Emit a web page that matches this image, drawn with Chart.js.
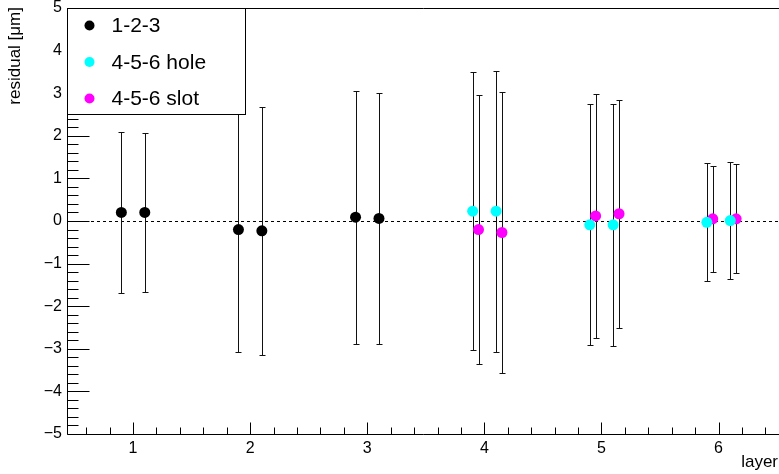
<!DOCTYPE html>
<html>
<head>
<meta charset="utf-8">
<script src="https://cdn.jsdelivr.net/npm/chart.js@4.4.1/dist/chart.umd.min.js"></script>
<style>
  html, body { margin: 0; padding: 0; background: #fff; }
  #wrap { width: 779px; height: 474px; }
</style>
</head>
<body>
<div id="wrap"><canvas id="residualChart"></canvas></div>
<script>
  // layer positions (offset so the three groups sit side by side)
  const x123 = [0.9, 1.1, 1.9, 2.1, 2.9, 3.1];
  const y123 = [0.20, 0.20, -0.20, -0.23, 0.09, 0.06];
  const e123 = [1.90, 1.86, 2.88, 2.91, 2.97, 2.94];

  const xHole = [3.9, 4.1, 4.9, 5.1, 5.9, 6.1];
  const yHole = [0.23, 0.23, -0.09, -0.09, -0.03, 0.01];
  const eHole = [3.26, 3.30, 2.83, 2.84, 1.38, 1.38];

  const xSlot = [3.95, 4.15, 4.95, 5.15, 5.95, 6.15];
  const ySlot = [-0.20, -0.27, 0.12, 0.17, 0.05, 0.05];
  const eSlot = [3.15, 3.29, 2.87, 2.68, 1.25, 1.28];

  const seriesNames = ['1-2-3', '4-5-6 hole', '4-5-6 slot'];
  const seriesColors = ['#000000', '#00ffff', '#ff00ff'];
  const xTickLabels = [1, 2, 3, 4, 5, 6];
  const yTickLabels = [-5, -4, -3, -2, -1, 0, 1, 2, 3, 4, 5];

  const FONT = '"Liberation Sans", Arial, Helvetica, sans-serif';

  function toPoints(xs, ys, es) {
    return xs.map((x, i) => ({ x: x, y: ys[i], err: es[i] }));
  }

  // error bars, dashed zero line and inward ticks (ROOT look)
  const rootStyle = {
    id: 'rootStyle',
    beforeDatasetsDraw(chart) {
      const { ctx, chartArea: a, scales: { x, y } } = chart;
      ctx.save();
      // dashed line at zero
      const y0 = Math.round(y.getPixelForValue(0)) + 0.5;
      ctx.strokeStyle = '#000';
      ctx.lineWidth = 1;
      ctx.setLineDash([3, 3]);
      ctx.beginPath();
      ctx.moveTo(a.left, y0);
      ctx.lineTo(a.right, y0);
      ctx.stroke();
      ctx.setLineDash([]);

      // error bars
      ctx.strokeStyle = '#111';
      chart.data.datasets.forEach(ds => {
        ds.data.forEach(p => {
          const px = Math.round(x.getPixelForValue(p.x)) + 0.5;
          const top = Math.round(y.getPixelForValue(p.y + p.err)) + 0.5;
          const bot = Math.round(y.getPixelForValue(p.y - p.err)) + 0.5;
          ctx.beginPath();
          ctx.moveTo(px, top); ctx.lineTo(px, bot);
          ctx.moveTo(px - 3, top); ctx.lineTo(px + 3, top);
          ctx.moveTo(px - 3, bot); ctx.lineTo(px + 3, bot);
          ctx.stroke();
        });
      });
      ctx.restore();
    },
    afterDraw(chart) {
      const { ctx, chartArea: a, scales: { x, y } } = chart;
      ctx.save();
      ctx.strokeStyle = '#000';
      ctx.lineWidth = 1;

      // frame: left, bottom, top
      const L = a.left + 0.5, B = Math.round(a.bottom) + 0.5, T = Math.round(a.top) + 0.5;
      ctx.beginPath();
      ctx.moveTo(L, T); ctx.lineTo(L, B); ctx.lineTo(779, B);
      ctx.moveTo(L, T); ctx.lineTo(779, T);
      ctx.stroke();

      // y ticks, pointing into the plot
      ctx.beginPath();
      for (let k = -50; k <= 50; k += 2) {
        const v = k / 10;
        const py = Math.round(y.getPixelForValue(v)) + 0.5;
        const len = (k % 10 === 0) ? 22 : 11;
        ctx.moveTo(L, py); ctx.lineTo(L + len, py);
      }
      // x ticks
      for (let k = 6; k <= 65; k += 2) {
        const v = k / 10;
        const px = Math.round(x.getPixelForValue(v)) + 0.5;
        if (px > 779) continue;
        const len = (k % 10 === 0) ? 12 : 7;
        ctx.moveTo(px, B); ctx.lineTo(px, B - len);
      }
      ctx.stroke();

      // axis titles
      ctx.fillStyle = '#000';
      ctx.font = '17px ' + FONT;
      ctx.textAlign = 'right';
      ctx.textBaseline = 'alphabetic';
      ctx.fillText('layer', 778, 467);
      ctx.save();
      ctx.translate(20, 7);
      ctx.rotate(-Math.PI / 2);
      ctx.fillText('residual [\u03bcm]', 0, 0);
      ctx.restore();

      // legend box
      const lx = L, ly = T, lw = 178, lh = 106;
      ctx.fillStyle = '#fff';
      ctx.fillRect(lx, ly, lw, lh);
      ctx.strokeRect(lx, ly, lw, lh);
      ctx.font = '21px ' + FONT;
      ctx.textAlign = 'left';
      ctx.textBaseline = 'middle';
      chart.data.datasets.forEach((ds, i) => {
        const cy = ly + 17 + i * 36.5;
        ctx.fillStyle = ds.backgroundColor;
        ctx.beginPath();
        ctx.arc(lx + 22, cy, 5, 0, Math.PI * 2);
        ctx.fill();
        ctx.fillStyle = '#000';
        ctx.fillText(ds.label, lx + 44, cy + 1);
      });
      ctx.restore();
    }
  };

  new Chart(document.getElementById('residualChart'), {
    type: 'scatter',
    data: {
      datasets: [
        { label: seriesNames[0], data: toPoints(x123, y123, e123), backgroundColor: seriesColors[0], borderWidth: 0, pointRadius: 5.5 },
        { label: seriesNames[1], data: toPoints(xHole, yHole, eHole), backgroundColor: seriesColors[1], borderWidth: 0, pointRadius: 5.5 },
        { label: seriesNames[2], data: toPoints(xSlot, ySlot, eSlot), backgroundColor: seriesColors[2], borderWidth: 0, pointRadius: 5.5 }
      ]
    },
    options: {
      responsive: true,
      maintainAspectRatio: false,
      animation: false,
      layout: { autoPadding: false, padding: { top: 8, right: 0, left: 0, bottom: 0 } },
      plugins: { legend: { display: false }, tooltip: { enabled: false } },
      scales: {
        x: {
          type: 'linear',
          min: 0.436,
          max: 6.516,
          grid: { display: false, drawTicks: false },
          border: { display: false },
          afterBuildTicks: s => { s.ticks = xTickLabels.map(v => ({ value: v })); },
          afterFit: s => { s.height = 40; s.paddingLeft = 0; s.paddingRight = 0; },
          ticks: { color: '#000', padding: 5, font: { family: FONT, size: 16 }, maxRotation: 0, autoSkip: false }
        },
        y: {
          type: 'linear',
          min: -5,
          max: 5,
          grid: { display: false, drawTicks: false },
          border: { display: false },
          afterBuildTicks: s => { s.ticks = yTickLabels.map(v => ({ value: v })); },
          afterFit: s => { s.width = 67; s.paddingTop = 0; s.paddingBottom = 0; },
          ticks: {
            color: '#000', padding: 5, font: { family: FONT, size: 16 },
            callback: v => (v < 0 ? '\u2212' + Math.abs(v) : String(v))
          }
        }
      }
    },
    plugins: [rootStyle]
  });
</script>
</body>
</html>
